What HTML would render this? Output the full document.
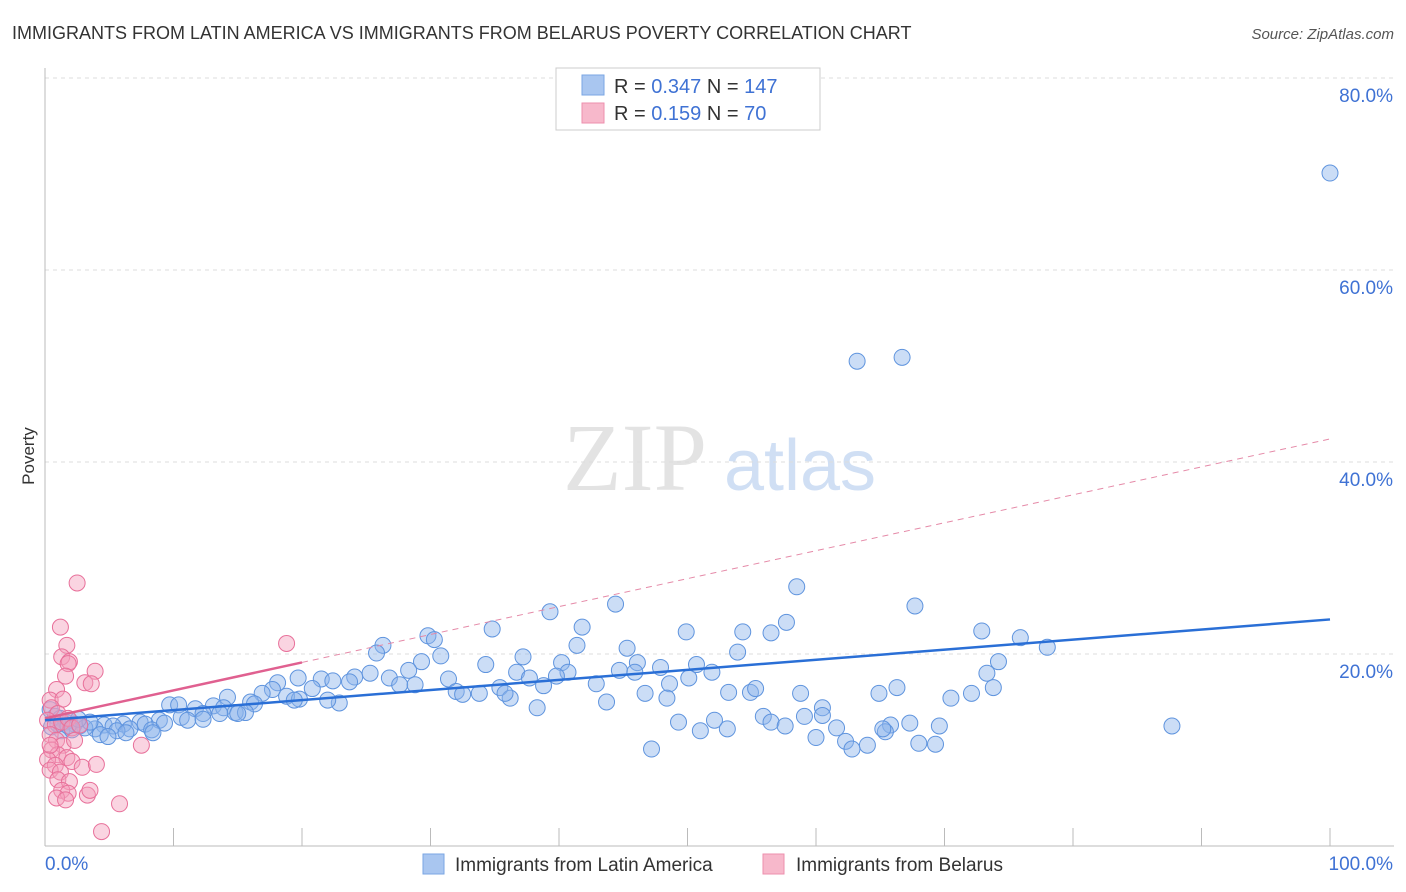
<!DOCTYPE html>
<html><head><meta charset="utf-8">
<style>
body{margin:0;background:#fff;font-family:"Liberation Sans",sans-serif;}
#wrap{position:relative;width:1406px;height:892px;overflow:hidden;}
</style></head>
<body>
<div id="wrap">
<svg id="svg" width="1406" height="892" xmlns="http://www.w3.org/2000/svg">
<text x="12" y="39" font-size="18" fill="#333">IMMIGRANTS FROM LATIN AMERICA VS IMMIGRANTS FROM BELARUS POVERTY CORRELATION CHART</text>
<text x="1394" y="39" font-size="15" fill="#555" font-style="italic" text-anchor="end">Source: ZipAtlas.com</text>
<text x="34" y="456" font-size="17" fill="#333" text-anchor="middle" transform="rotate(-90 34 456)">Poverty</text>
<g>
<text x="635" y="490" font-size="96" fill="#ddd" font-family="Liberation Serif" text-anchor="middle" opacity="0.8">ZIP</text>
<text x="800" y="490" font-size="72" fill="#c5d8f2" text-anchor="middle" opacity="0.8">atlas</text>
</g>
<g id="grid"></g>
<g id="marks"></g>
<g>
<rect x="556" y="68" width="264" height="62" fill="#fff" stroke="#ccc"/>
<rect x="582" y="75" width="22" height="20" fill="#a9c6f0" stroke="#7aa6e3"/>
<rect x="582" y="103" width="22" height="20" fill="#f7b8cb" stroke="#ee8fae"/>
<text x="614" y="93" font-size="20" fill="#333">R = <tspan fill="#3f72d4">0.347</tspan>   N = <tspan fill="#3f72d4">147</tspan></text>
<text x="614" y="120" font-size="20" fill="#333">R =  <tspan fill="#3f72d4">0.159</tspan>   N =  <tspan fill="#3f72d4">70</tspan></text>
</g>
<g>
<rect x="423" y="854" width="21" height="20" fill="#a9c6f0" stroke="#7aa6e3"/>
<text x="455" y="871" font-size="19" fill="#333">Immigrants from Latin America</text>
<rect x="763" y="854" width="21" height="20" fill="#f7b8cb" stroke="#ee8fae"/>
<text x="796" y="871" font-size="19" fill="#333">Immigrants from Belarus</text>
</g>
</svg>
</div>
<script>
const yTicks=[20,40,60,80];
const yTickLabels=["20.0%","40.0%","60.0%","80.0%"];
const xTicks=[0,10,20,30,40,50,60,70,80,90,100];
const xTickLabels=["0.0%","100.0%"];
const latinX=[100,63.2,66.7,58.5,44.4,67.7,39.3,57.7,34.8,41.8,49.9,54.3,56.5,72.9,75.9,78.0,29.8,26.3,30.3,41.4,45.3,53.9,74.2,25.8,30.8,37.2,34.3,29.3,40.2,46.1,47.9,50.7,51.9,44.7,45.9,40.7,36.7,39.8,73.3,28.3,25.3,24.1,19.7,21.5,26.8,27.6,28.8,31.4,37.7,38.8,42.9,48.6,50.1,23.7,22.4,18.1,17.7,16.9,18.8,20.8,32.0,32.5,33.8,35.4,36.2,35.8,46.7,48.4,53.2,54.9,55.3,58.8,64.9,66.3,70.5,72.1,73.8,43.7,22.9,22.0,19.8,19.4,14.2,16.0,9.7,10.4,13.1,13.9,11.7,16.3,38.3,60.5,14.8,15.6,15.0,12.3,13.6,10.6,11.1,12.3,8.9,7.4,7.8,6.1,4.6,5.3,3.9,6.6,8.3,9.3,5.6,4.3,4.9,6.3,8.4,55.9,56.5,57.6,59.1,60.5,61.6,65.8,67.3,69.6,49.3,52.1,51.0,53.1,60.0,62.3,65.4,68.0,69.3,62.8,64.0,47.2,87.7,65.2,0.4,0.8,1.2,1.6,1.9,2.3,2.7,3.1,0.5,1.3,2.1,3.5,1.0,1.8,2.6];
const latinY=[70.1,50.5,50.9,27.0,25.2,25.0,24.4,23.3,22.6,22.8,22.3,22.3,22.2,22.4,21.7,20.7,21.9,20.9,21.5,20.9,20.6,20.2,19.2,20.1,19.8,19.7,18.9,19.2,19.1,19.1,18.6,18.9,18.1,18.3,18.1,18.1,18.1,17.7,18.0,18.3,18.0,17.6,17.5,17.4,17.5,16.8,16.8,17.4,17.5,16.7,16.9,16.9,17.5,17.1,17.2,17.0,16.3,15.9,15.6,16.4,16.1,15.8,15.9,16.5,15.4,15.9,15.9,15.4,16.0,16.0,16.4,15.9,15.9,16.5,15.4,15.9,16.5,15.0,14.9,15.2,15.3,15.2,15.5,15.0,14.7,14.7,14.6,14.4,14.3,14.8,14.4,14.4,13.9,13.9,13.8,13.8,13.8,13.4,13.1,13.2,13.1,12.9,12.7,12.7,12.6,12.5,12.2,12.2,12.1,12.8,12.0,11.6,11.4,11.8,11.8,13.5,12.9,12.5,13.5,13.6,12.3,12.6,12.8,12.5,12.9,13.1,12.0,12.2,11.3,10.9,11.9,10.7,10.6,10.1,10.5,10.1,12.5,12.2,14.2,13.5,13.3,12.9,13.1,12.7,12.5,12.3,12.4,12.0,12.1,12.9,12.7,12.5,13.2];
const belX=[2.5,1.2,18.8,1.7,1.3,1.9,1.8,3.9,1.6,3.1,3.6,0.9,0.4,1.4,0.5,1.0,0.2,0.8,1.3,1.8,2.1,0.4,0.9,1.4,0.5,1.0,0.2,1.7,2.1,0.8,0.4,1.2,2.9,4.0,1.0,1.9,1.3,1.8,0.9,1.6,3.3,3.5,5.8,4.4,7.5,0.4,2.3,2.7];
const belY=[27.4,22.8,21.1,20.9,19.7,19.2,19.0,18.2,17.7,17.0,16.9,16.3,15.2,15.3,14.4,13.8,13.1,12.6,12.9,13.3,12.3,11.6,11.0,10.5,10.0,9.5,9.0,9.2,8.8,8.4,7.9,7.7,8.2,8.5,6.9,6.7,5.8,5.5,5.0,4.8,5.3,5.8,4.4,1.5,10.5,10.5,11.0,12.6];
const latinTrend=[13.1,23.6];   // y at x=0 and x=100
const belTrend=[13.3,42.4];     // y at x=0 and x=100
const belSolidEnd=20;

const NS="http://www.w3.org/2000/svg";
const X0=45,X1=1330,Y0=846,YPER=9.6;
const sx=v=>X0+(X1-X0)*v/100;
const sy=v=>Y0-v*YPER;
function mk(tag,attrs,parent){const e=document.createElementNS(NS,tag);for(const k in attrs)e.setAttribute(k,attrs[k]);parent.appendChild(e);return e;}
const grid=document.getElementById('grid'),marks=document.getElementById('marks');
yTicks.forEach((t,i)=>{
  const l=mk('line',{x1:X0,x2:1394,y1:sy(t),y2:sy(t),stroke:'#ddd','stroke-dasharray':'4 4'},grid);
  
  
  const tx=mk('text',{x:1393,y:sy(t)+24,'font-size':19,fill:'#3f72d4','text-anchor':'end'},grid);
  tx.textContent=yTickLabels[i];
  
  
});
const ya=mk('line',{x1:X0,x2:X0,y1:68,y2:Y0,stroke:'#bbb'},grid);


const xa=mk('line',{x1:X0,x2:1394,y1:Y0,y2:Y0,stroke:'#bbb'},grid);


xTicks.forEach(t=>{
  const l=mk('line',{x1:sx(t),x2:sx(t),y1:828,y2:Y0,stroke:'#bbb'},grid);
  
  
});
const xl0=mk('text',{x:45,y:870,'font-size':19,fill:'#3f72d4'},grid);xl0.textContent=xTickLabels[0];


const xl1=mk('text',{x:1393,y:870,'font-size':19,fill:'#3f72d4','text-anchor':'end'},grid);xl1.textContent=xTickLabels[1];



latinX.forEach((v,i)=>{
  const c=mk('circle',{cx:sx(v),cy:sy(latinY[i]),r:8,fill:'rgba(140,180,235,0.45)',stroke:'#5f94de','stroke-width':1},marks);
  
  
});
belX.forEach((v,i)=>{
  const c=mk('circle',{cx:sx(v),cy:sy(belY[i]),r:8,fill:'rgba(244,160,188,0.45)',stroke:'#e8709a','stroke-width':1},marks);
  
  
});
const bAt=x=>belTrend[0]+(belTrend[1]-belTrend[0])*x/100;
const bd=mk('line',{x1:sx(belSolidEnd),y1:sy(bAt(belSolidEnd)),x2:sx(100),y2:sy(belTrend[1]),stroke:'#e58aa8','stroke-width':1,'stroke-dasharray':'6 5'},marks);


const bs=mk('line',{x1:sx(0),y1:sy(belTrend[0]),x2:sx(belSolidEnd),y2:sy(bAt(belSolidEnd)),stroke:'#e06090','stroke-width':2.5},marks);


const lt=mk('line',{x1:sx(0),y1:sy(latinTrend[0]),x2:sx(100),y2:sy(latinTrend[1]),stroke:'#2a6fd6','stroke-width':2.5},marks);


</script>
</body></html>
